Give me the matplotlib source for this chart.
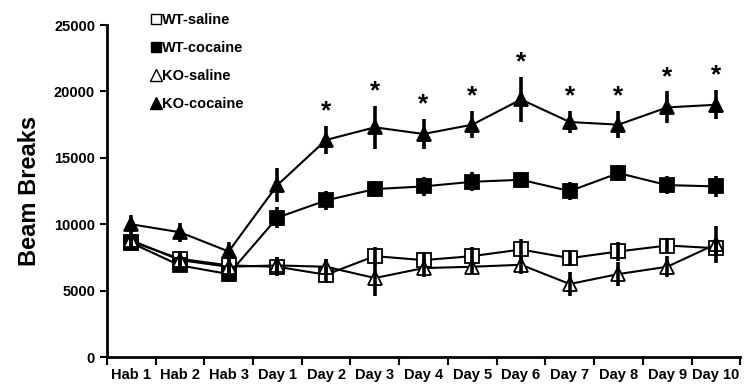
import matplotlib
matplotlib.use("Agg")
import matplotlib.pyplot as plt
import numpy as np
from matplotlib.lines import Line2D

plt.rcParams['font.family'] = ['Liberation Sans', 'DejaVu Sans']

categories = ["Hab 1", "Hab 2", "Hab 3", "Day 1", "Day 2", "Day 3", "Day 4",
              "Day 5", "Day 6", "Day 7", "Day 8", "Day 9", "Day 10"]

wt_saline = [8700, 7400, 6900, 6800, 6200, 7600, 7300, 7600, 8100, 7450, 7950, 8400, 8200]
wt_saline_err = [500, 600, 500, 700, 600, 700, 600, 700, 800, 600, 700, 600, 600]

wt_cocaine = [8600, 6900, 6250, 10500, 11800, 12650, 12850, 13200, 13350, 12500, 13850, 12950, 12850]
wt_cocaine_err = [600, 500, 600, 800, 700, 600, 700, 700, 600, 700, 600, 700, 800]

ko_saline = [8800, 7300, 6800, 6900, 6800, 5950, 6700, 6800, 6950, 5500, 6250, 6800, 8500]
ko_saline_err = [500, 600, 500, 600, 600, 1350, 700, 500, 700, 900, 900, 800, 1400]

ko_cocaine = [10000, 9400, 7950, 12950, 16350, 17300, 16800, 17500, 19400, 17700, 17500, 18800, 19000]
ko_cocaine_err = [700, 700, 700, 1300, 1050, 1600, 1100, 1000, 1700, 800, 1000, 1200, 1100]

significant = [False, False, False, False, True, True, True, True, True, True, True, True, True]

fig = plt.figure(figsize=(7.47, 3.86), dpi=100)
ax = fig.add_axes([0.143, 0.075, 0.848, 0.860])

x = np.arange(len(categories))

series = [
    ("WT-saline", wt_saline, wt_saline_err, "s", "white"),
    ("WT-cocaine", wt_cocaine, wt_cocaine_err, "s", "black"),
    ("KO-saline", ko_saline, ko_saline_err, "^", "white"),
    ("KO-cocaine", ko_cocaine, ko_cocaine_err, "^", "black"),
]

for name, vals, errs, mk, fc in series:
    ax.plot(x, vals, color='black', lw=1.5, marker=mk, markersize=9.5 if mk == 's' else 10.5,
            markerfacecolor=fc, markeredgecolor='black', markeredgewidth=1.3, zorder=3)
    ax.errorbar(x, vals, yerr=errs, fmt='none', ecolor='black', elinewidth=2.6,
                capsize=0, zorder=4)

for i, sig in enumerate(significant):
    if sig:
        top = ko_cocaine[i] + ko_cocaine_err[i]
        ax.text(x[i], top + 200, "*", ha='center', va='bottom', fontsize=19,
                fontweight='bold')

ax.set_xlim(-0.5, len(categories) - 0.5)
ax.set_ylim(0, 25000)
ax.set_yticks([0, 5000, 10000, 15000, 20000, 25000])
ax.set_xticks(x)
ax.set_xticklabels(categories, fontweight='bold', fontsize=10.5)
ax.set_xticks(np.arange(-0.5, len(categories)), minor=True)
ax.tick_params(axis='x', which='major', length=0, pad=8)
ax.tick_params(axis='x', which='minor', length=6, width=1.5, direction='out')
ax.tick_params(axis='y', length=5, width=1.5, direction='out', labelsize=10.5)
for lbl in ax.get_yticklabels():
    lbl.set_fontweight('bold')

for s in ['top', 'right']:
    ax.spines[s].set_visible(False)
for s in ['left', 'bottom']:
    ax.spines[s].set_linewidth(2)

ax.set_ylabel("Beam Breaks", fontsize=17, fontweight='bold', labelpad=9)

handles = [
    Line2D([], [], ls='none', marker='s', markersize=7, markerfacecolor='white', markeredgecolor='black'),
    Line2D([], [], ls='none', marker='s', markersize=7, markerfacecolor='black', markeredgecolor='black'),
    Line2D([], [], ls='none', marker='^', markersize=8, markerfacecolor='white', markeredgecolor='black'),
    Line2D([], [], ls='none', marker='^', markersize=8, markerfacecolor='black', markeredgecolor='black'),
]
labels = [s[0] for s in series]
leg = ax.legend(handles, labels, loc='upper left', bbox_to_anchor=(0.05, 1.075),
                frameon=False, handlelength=0.6, handletextpad=0.1,
                labelspacing=0.95, prop={'weight': 'bold', 'size': 10.5})

fig.savefig("out.png", dpi=100)
